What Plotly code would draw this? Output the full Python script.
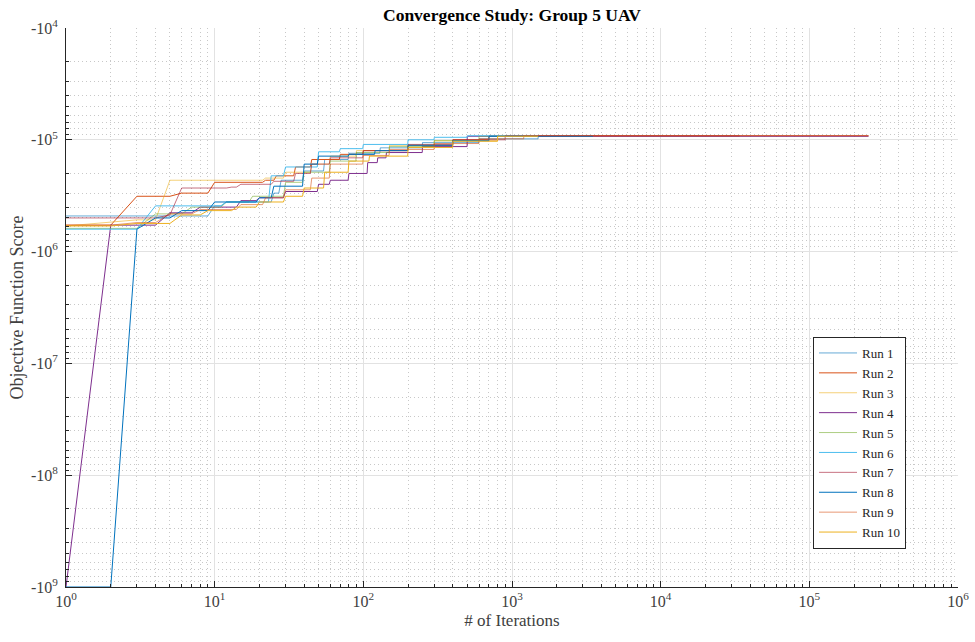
import plotly.graph_objects as go

# ---- data: change points (iteration, |objective|) of best-so-far per run ----
run_names = [f"Run {i}" for i in range(1, 11)]

run_iters = [
    [1, 9, 10, 12, 25, 28, 40, 55, 80, 130, 250, 600, 1500],
    [1, 3, 6, 10, 22, 26, 35, 45, 70, 100, 200, 400, 700],
    [1, 2, 3, 5, 22, 30, 45, 60, 90, 150, 300, 800],
    [1, 2, 5, 8, 15, 20, 30, 50, 60, 80, 107, 125, 143, 250, 500],
    [1, 3, 4, 7, 12, 18, 30, 40, 60, 90, 150, 300, 600],
    [1, 3, 4, 12, 24, 30, 50, 70, 100, 200, 300, 500],
    [1, 5, 6, 13, 15, 25, 35, 45, 60, 100, 200, 400, 900],
    [1, 2, 3, 4, 6, 10, 20, 25, 40, 50, 80, 120, 200, 400, 700],
    [1, 3, 5, 8, 15, 22, 30, 45, 60, 100, 150, 300, 600, 1200],
    [1, 3, 6, 9, 14, 20, 30, 40, 55, 80, 110, 200, 400, 800],
]
run_values = [
    [4.8e5, 4.8e5, 3.9e5, 3.6e5, 3.0e5, 2.3e5, 1.9e5, 1.5e5, 1.32e5, 1.18e5, 1.06e5, 9.8e4, 9.3e4],
    [5.8e5, 3.2e5, 3.0e5, 2.4e5, 2.3e5, 2.1e5, 1.75e5, 1.5e5, 1.35e5, 1.25e5, 1.12e5, 1.0e5, 9.2e4],
    [5.9e5, 5.5e5, 5.2e5, 2.3e5, 2.2e5, 1.95e5, 1.65e5, 1.4e5, 1.25e5, 1.12e5, 1.02e5, 9.3e4],
    [1.0e9, 5.8e5, 4.5e5, 4.0e5, 3.5e5, 3.3e5, 2.9e5, 2.5e5, 2.3e5, 2.0e5, 1.6e5, 1.45e5, 1.3e5, 1.15e5, 9.3e4],
    [6.2e5, 6.2e5, 4.6e5, 4.0e5, 3.6e5, 3.2e5, 2.4e5, 1.95e5, 1.55e5, 1.3e5, 1.15e5, 1.02e5, 9.3e4],
    [6.3e5, 6.3e5, 3.9e5, 3.6e5, 2.1e5, 1.75e5, 1.28e5, 1.2e5, 1.1e5, 1.0e5, 9.5e4, 9.2e4],
    [5.0e5, 4.7e5, 2.7e5, 2.65e5, 2.5e5, 2.35e5, 2.0e5, 1.65e5, 1.45e5, 1.25e5, 1.1e5, 1.0e5, 9.2e4],
    [1.0e9, 1.0e9, 6.3e5, 5.0e5, 4.3e5, 3.6e5, 3.3e5, 2.6e5, 1.65e5, 1.4e5, 1.35e5, 1.25e5, 1.12e5, 1.02e5, 9.3e4],
    [5.8e5, 5.5e5, 4.6e5, 4.2e5, 3.8e5, 3.3e5, 2.8e5, 2.2e5, 1.65e5, 1.38e5, 1.22e5, 1.08e5, 9.8e4, 9.2e4],
    [5.9e5, 5.6e5, 4.7e5, 4.3e5, 4.0e5, 3.6e5, 3.2e5, 2.7e5, 1.95e5, 1.55e5, 1.4e5, 1.17e5, 1.03e5, 9.3e4],
]
run_last_iter = [3.5e3, 2.5e5, 3.4e4, 2.5e5, 1.5e3, 1.5e3, 3.4e4, 3.5e3, 2.5e5, 1.5e3]

x_tick_vals = [1e0, 1e1, 1e2, 1e3, 1e4, 1e5, 1e6]
x_tick_text = ["10<sup>0</sup>", "10<sup>1</sup>", "10<sup>2</sup>", "10<sup>3</sup>",
               "10<sup>4</sup>", "10<sup>5</sup>", "10<sup>6</sup>"]
y_tick_vals = [1e4, 1e5, 1e6, 1e7, 1e8, 1e9]
y_tick_text = ["-10<sup>4</sup>", "-10<sup>5</sup>", "-10<sup>6</sup>",
               "-10<sup>7</sup>", "-10<sup>8</sup>", "-10<sup>9</sup>"]

colors = [
    "rgba(0,114,189,0.6)", "rgb(217,83,25)", "rgba(237,177,32,0.6)", "rgb(126,47,142)",
    "rgba(119,172,48,0.6)", "rgb(77,190,238)", "rgba(162,20,47,0.6)", "rgb(0,114,189)",
    "rgba(217,83,25,0.6)", "rgb(237,177,32)",
]

FONT = "Liberation Serif, Times New Roman, serif"

fig = go.Figure()
for name, its, vals, last, col in zip(run_names, run_iters, run_values, run_last_iter, colors):
    xs, ys = [its[0]], [vals[0]]
    for k, v in zip(its[1:], vals[1:]):
        if k - 1 > xs[-1]:
            xs.append(k - 1)
            ys.append(ys[-1])
        xs.append(k)
        ys.append(v)
    xs.append(last)
    ys.append(ys[-1])
    fig.add_trace(go.Scatter(x=xs, y=ys, mode="lines", name=name,
                             line=dict(color=col, width=1)))

axis_common = dict(
    type="log", showline=True, linecolor="#262626", linewidth=1,
    ticks="inside", ticklen=6, tickcolor="#262626", mirror=False,
    showgrid=True, gridcolor="#e2e2e2", gridwidth=1, zeroline=False,
    automargin=False,
    tickfont=dict(family=FONT, size=16, color="#404040"),
    minor=dict(dtick="D1", ticks="inside", ticklen=3, tickcolor="#262626",
               showgrid=True, gridcolor="#c8c8c8", griddash="1px,3px", gridwidth=1),
)

fig.update_xaxes(range=[0, 6], tickvals=x_tick_vals, ticktext=x_tick_text,
                 title=dict(text="# of Iterations", font=dict(family=FONT, size=17, color="#404040"),
                            standoff=4),
                 **axis_common)
fig.update_yaxes(range=[9, 4], tickvals=y_tick_vals, ticktext=y_tick_text,
                 ticklabelstandoff=4,
                 title=dict(text="Objective Function Score", font=dict(family=FONT, size=18, color="#404040"),
                            standoff=2),
                 **axis_common)

fig.update_layout(
    width=975, height=642,
    margin=dict(l=66, r=17, t=28, b=55),
    paper_bgcolor="white", plot_bgcolor="white",
    title=dict(text="<b>Convergence Study: Group 5 UAV</b>", x=512 / 975, xanchor="center",
               y=1 - 15 / 642, yanchor="middle", yref="container",
               font=dict(family=FONT, size=17.5, color="black")),
    legend=dict(x=(813 - 66) / 892, y=(587 - 337) / 559, xanchor="left", yanchor="top",
                bgcolor="white", bordercolor="#262626", borderwidth=1,
                font=dict(family=FONT, size=13, color="#262626"),
                tracegroupgap=0, itemwidth=38),
    showlegend=True,
)

fig.write_html("out.html")
